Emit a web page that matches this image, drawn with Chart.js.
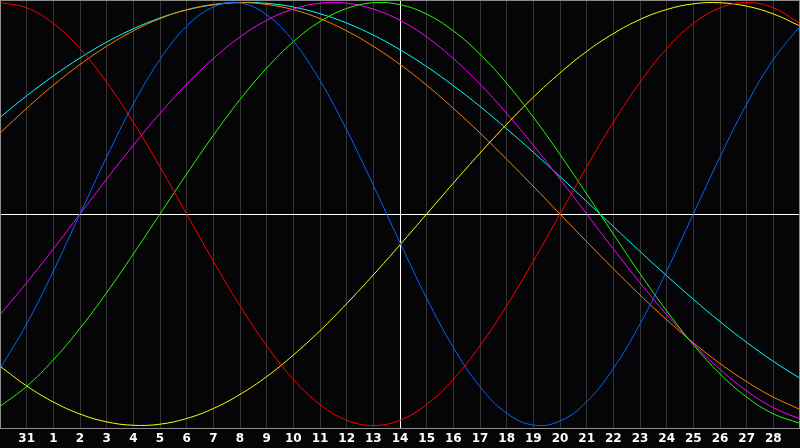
<!DOCTYPE html>
<html>
<head>
<meta charset="utf-8">
<script src="https://cdn.jsdelivr.net/npm/chart.js@4.4.1/dist/chart.umd.min.js"></script>
<style>
html,body{margin:0;padding:0;background:#050508;overflow:hidden;}
#wrap{width:800px;height:448px;}
</style>
</head>
<body>
<div id="wrap"><canvas id="c" width="800" height="448"></canvas></div>
<script>
// Day labels (first and last gridlines carry no visible label)
const dayLabels = ['30','31','1','2','3','4','5','6','7','8','9','10','11','12','13','14','15','16','17','18','19','20','21','22','23','24','25','26','27','28','1'];
const todayIndex = 15;

// Series values (one per day)
const red = [1.000,0.975,0.901,0.782,0.623,0.434,0.223,0.000,-0.223,-0.434,-0.623,-0.782,-0.901,-0.975,-1.000,-0.975,-0.901,-0.782,-0.623,-0.434,-0.223,0.000,0.223,0.434,0.623,0.782,0.901,0.975,1.000,0.975,0.901];
const blue = [-0.731,-0.520,-0.270,0,0.270,0.520,0.731,0.888,0.979,0.998,0.942,0.817,0.631,0.398,0.136,-0.136,-0.398,-0.631,-0.817,-0.942,-0.998,-0.979,-0.888,-0.731,-0.520,-0.270,0,0.270,0.520,0.731,0.888];
const green = [-0.910,-0.815,-0.690,-0.541,-0.372,-0.189,0,0.189,0.372,0.541,0.690,0.815,0.910,0.972,0.999,0.990,0.945,0.866,0.756,0.618,0.458,0.282,0.095,-0.095,-0.282,-0.458,-0.618,-0.756,-0.866,-0.945,-0.990];
const magenta = [-0.476,-0.325,-0.165,0,0.165,0.325,0.476,0.614,0.735,0.837,0.916,0.969,0.997,0.997,0.969,0.916,0.837,0.735,0.614,0.476,0.325,0.165,0,-0.165,-0.325,-0.476,-0.614,-0.735,-0.837,-0.916,-0.969];
const yellow = [-0.720,-0.813,-0.889,-0.946,-0.983,-0.999,-0.994,-0.967,-0.920,-0.853,-0.769,-0.667,-0.552,-0.424,-0.288,-0.146,0,0.146,0.288,0.424,0.552,0.667,0.769,0.853,0.920,0.967,0.994,0.999,0.983,0.946,0.889];
const orange = [0.383,0.500,0.609,0.707,0.793,0.866,0.924,0.966,0.991,1.000,0.991,0.966,0.924,0.866,0.793,0.707,0.609,0.500,0.383,0.259,0.131,0,-0.131,-0.259,-0.383,-0.500,-0.609,-0.707,-0.793,-0.866,-0.924];
const cyan = [0.457,0.559,0.653,0.738,0.813,0.876,0.927,0.965,0.989,1.000,0.996,0.979,0.947,0.903,0.846,0.777,0.697,0.607,0.509,0.403,0.292,0.177,0.059,-0.059,-0.177,-0.292,-0.403,-0.509,-0.607,-0.697,-0.777];

const frameColor = '#8c8c8c';
const gridColor = '#333333';

const bgPlugin = {
  id: 'bg',
  beforeDraw(chart) {
    const c = chart.ctx;
    c.save();
    c.fillStyle = '#050508';
    c.fillRect(0, 0, chart.width, chart.height);
    c.restore();
  },
  afterDraw(chart) {
    const a = chart.chartArea, c = chart.ctx;
    c.save();
    c.strokeStyle = frameColor;
    c.lineWidth = 1;
    c.strokeRect(a.left + 0.5, a.top + 0.5, a.right - a.left - 1, a.bottom - a.top);
    c.restore();
  }
};

function ds(data, color) {
  return {data, borderColor: color, borderWidth: 1, pointRadius: 0, tension: 0.4, fill: false};
}

new Chart(document.getElementById('c'), {
  type: 'line',
  data: {
    labels: dayLabels,
    datasets: [
      ds(red, '#ff0000'),
      ds(blue, '#0066ff'),
      ds(green, '#22ff00'),
      ds(yellow, '#ffff00'),
      ds(magenta, '#ff00ff'),
      ds(orange, '#ff8000'),
      ds(cyan, '#00ffff')
    ]
  },
  plugins: [bgPlugin],
  options: {
    responsive: false,
    animation: false,
    devicePixelRatio: 1,
    layout: {padding: 0},
    plugins: {legend: {display: false}, tooltip: {enabled: false}},
    scales: {
      x: {
        offset: false,
        afterFit: s => { s.paddingLeft = 0; s.paddingRight = 0; s.height = 20; },
        grid: {
          color: ctx => ctx.index === todayIndex ? '#ffffff' : gridColor,
          drawTicks: false
        },
        border: {color: frameColor},
        ticks: {
          autoSkip: false,
          maxRotation: 0,
          padding: 4,
          color: '#ffffff',
          font: {family: 'DejaVu Sans', size: 12, weight: 'bold', lineHeight: 1.15},
          callback: (v, i) => (i === 0 || i === dayLabels.length - 1) ? '' : dayLabels[i]
        }
      },
      y: {
        min: -1.012,
        max: 1.012,
        afterFit: s => { s.width = 0; s.paddingTop = 0; s.paddingBottom = 0; },
        grid: {
          color: ctx => (ctx.tick && ctx.tick.value === 0) ? '#ffffff' : 'rgba(0,0,0,0)',
          drawTicks: false
        },
        border: {color: frameColor},
        ticks: {display: false, stepSize: 1.012}
      }
    }
  }
});
</script>
</body>
</html>
